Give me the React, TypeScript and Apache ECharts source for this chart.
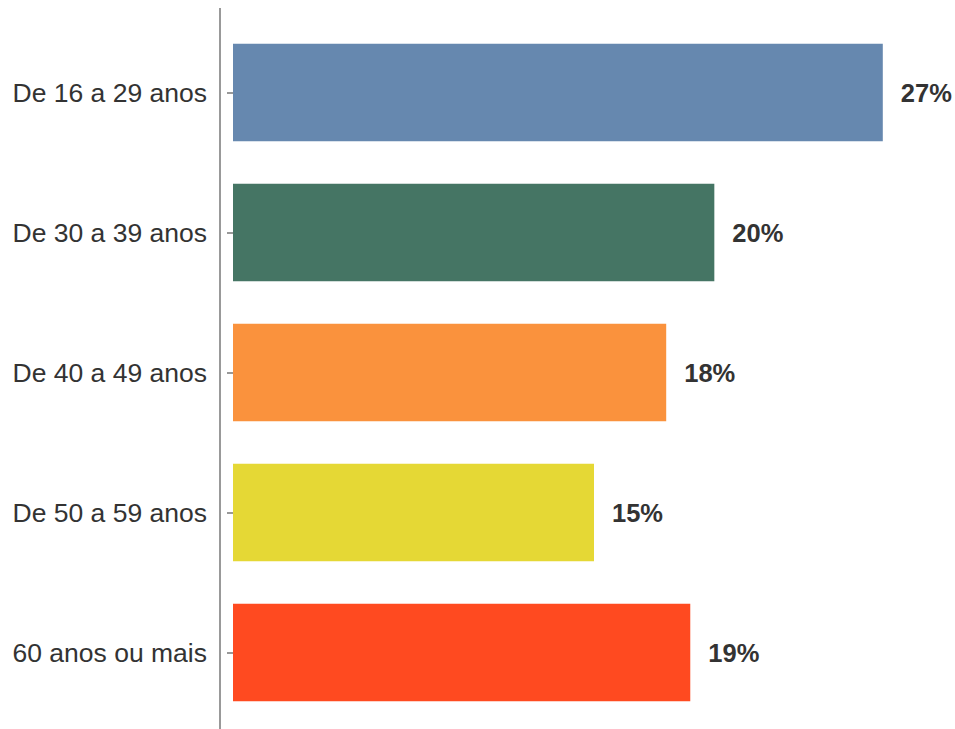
import React, { useEffect, useRef } from "react";
import * as echarts from "echarts";

const categories = ["De 16 a 29 anos", "De 30 a 39 anos", "De 40 a 49 anos", "De 50 a 59 anos", "60 anos ou mais"];
const values = [27, 20, 18, 15, 19];
const colors = ["#6688AF", "#457564", "#FA923D", "#E5D835", "#FF4A20"];

export default function App() {
  const ref = useRef<HTMLDivElement>(null);
  useEffect(() => {
    if (!ref.current) return;
    const chart = echarts.init(ref.current, null, { renderer: "svg" });
    chart.setOption({
      animation: false,
      backgroundColor: "#ffffff",
      grid: { left: 233, top: 22.5, width: 722, height: 700 },
      xAxis: { type: "value", min: 0, max: 30, show: false },
      yAxis: {
        type: "category",
        data: categories,
        inverse: true,
        offset: 13,
        axisLine: { show: false },
        axisTick: { show: true, alignWithLabel: true, length: 6, lineStyle: { color: "#999999", width: 2 } },
        axisLabel: { margin: 13, fontSize: 26.5, color: "#333333", fontFamily: "Liberation Sans, Arial, sans-serif" },
        splitLine: { show: false },
      },
      graphic: [
        {
          type: "line",
          shape: { x1: 220, y1: 8, x2: 220, y2: 729 },
          style: { stroke: "#999999", lineWidth: 2 },
          silent: true,
        },
      ],
      series: [
        {
          type: "bar",
          barWidth: 97.5,
          data: values.map((v, i) => ({ value: v, itemStyle: { color: colors[i] } })),
          label: {
            show: true,
            position: "right",
            distance: 18,
            formatter: "{c}%",
            fontSize: 25.5,
            fontWeight: "bold",
            color: "#333333",
            fontFamily: "Liberation Sans, Arial, sans-serif",
          },
        },
      ],
    });
    return () => chart.dispose();
  }, []);
  return <div ref={ref} style={{ position: "absolute", left: 0, top: 0, width: 955, height: 729 }} />;
}
